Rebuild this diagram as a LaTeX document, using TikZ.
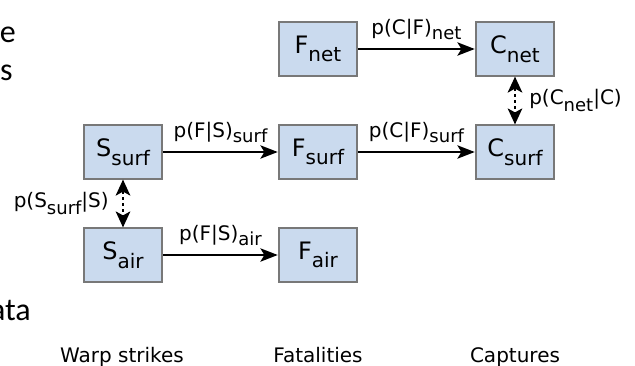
\documentclass[tikz,border=0pt]{standalone}
\usepackage{fontspec}
\setmainfont{DejaVu Sans}
\newfontfamily\slidefont{Carlito}
\usetikzlibrary{arrows.meta}
\definecolor{boxfill}{RGB}{202,218,238}
\definecolor{boxline}{RGB}{120,120,120}
\newcommand\bsub[1]{\raisebox{-6.5pt}{\fontsize{15}{15}\selectfont #1}}
\newcommand\lsub[1]{\raisebox{-4pt}{\fontsize{13.5}{13.5}\selectfont #1}}
\newcommand\isub[1]{\raisebox{-5pt}{\fontsize{13.5}{13.5}\selectfont #1}}
\begin{document}
\begin{tikzpicture}[x=0.75pt,y=-0.75pt,
  stage/.style={draw=boxline,line width=1.4pt,fill=boxfill,minimum width=59pt,minimum height=40pt,inner sep=0pt,font=\fontsize{18}{18}\selectfont},
  flow/.style={-{Stealth[length=13pt,width=10pt,inset=3pt]},line width=1.5pt},
  link/.style={{Stealth[length=12pt,width=11pt,inset=3pt]}-{Stealth[length=12pt,width=11pt,inset=3pt]},line width=1.4pt,dash pattern=on 2.5pt off 2pt},
  lbl/.style={font=\fontsize{15}{15}\selectfont,inner sep=1pt},
  cat/.style={font=\fontsize{15}{15}\selectfont,anchor=base},
  frag/.style={font=\slidefont\fontsize{24}{24}\selectfont,anchor=base east,inner sep=0pt}]
\useasboundingbox (0,0) rectangle (635,365);
\fill[white] (0,0) rectangle (635,365);

% cut-off slide text at the left edge
\node[frag] (f1) at (16,42) {e};
\node[frag] (f2) at (13,80) {s};
\node[frag] (f3) at (31,320) {ata};

% boxes
\node[stage] (Fnet)  at (318,49)  {F\bsub{net}};
\node[stage] (Cnet)  at (515,49)  {C\bsub{net}};
\node[stage] (Ssurf) at (123,152) {S\bsub{surf}};
\node[stage] (Fsurf) at (318,152) {F\bsub{surf}};
\node[stage] (Csurf) at (515,152) {C\bsub{surf}};
\node[stage] (Sair)  at (123,255) {S\bsub{air}};
\node[stage] (Fair)  at (318,255) {F\bsub{air}};

% connectors
\draw[flow] (Fnet) -- node[lbl,above=5pt] (l1) {p(C|F)\lsub{net}} (Cnet);
\draw[flow] (Ssurf) -- node[lbl,above=5pt] (l2) {p(F|S)\lsub{surf}} (Fsurf);
\draw[flow] (Fsurf) -- node[lbl,above=5pt] (l3) {p(C|F)\lsub{surf}} (Csurf);
\draw[flow] (Sair) -- node[lbl,above=5pt] (l4) {p(F|S)\lsub{air}} (Fair);
\draw[link] (Cnet) -- node[lbl,right=9pt] (l5) {p(C\isub{net}|C)} (Csurf);
\draw[link] (Ssurf) -- node[lbl,left=9pt] (l6) {p(S\isub{surf}|S)} (Sair);

% column captions
\node[cat] (c1) at (122,362) {Warp strikes};
\node[cat] (c2) at (318,362) {Fatalities};
\node[cat] (c3) at (515,362) {Captures};
\end{tikzpicture}
\end{document}
